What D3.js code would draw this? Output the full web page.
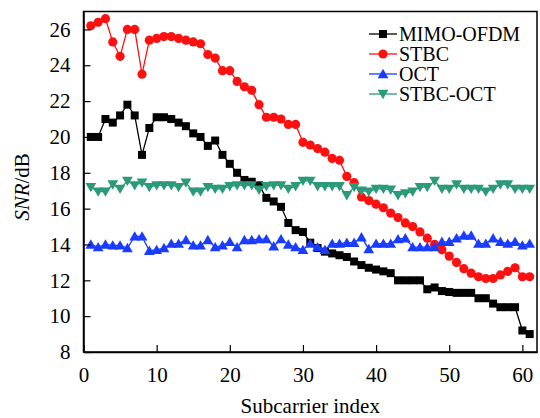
<!DOCTYPE html>
<html>
<head>
<meta charset="utf-8">
<script src="https://cdn.jsdelivr.net/npm/d3@7"></script>
<style>
  body { margin: 0; background: #fff; }
  text { font-family: "Liberation Serif", "Times New Roman", serif; }
</style>
</head>
<body>
<svg width="540" height="418"></svg>
<script>
let subcarrier = [1,2,3,4,5,6,7,8,9,10,11,12,13,14,15,16,17,18,19,20,
  21,22,23,24,25,26,27,28,29,30,31,32,33,34,35,36,37,38,39,40,
  41,42,43,44,45,46,47,48,49,50,51,52,53,54,55,56,57,58,59,60,61];

let mimoOfdm = [20.0,20.0,21.0,20.8,21.2,21.8,21.2,19.0,20.5,21.1,
  21.1,21.0,20.8,20.6,20.2,20.0,19.5,19.8,19.0,18.5,
  18.0,17.6,17.5,17.3,16.6,16.4,16.1,15.2,14.8,14.7,
  14.1,13.8,13.6,13.5,13.4,13.3,13.05,12.85,12.7,12.6,
  12.5,12.4,12.0,12.0,12.0,12.0,11.5,11.6,11.4,11.35,
  11.3,11.3,11.3,11.0,11.0,10.7,10.5,10.5,10.5,9.2,9.0];

let stbc = [26.2,26.4,26.6,25.3,24.5,26.0,26.0,23.5,25.4,25.5,
  25.6,25.6,25.5,25.4,25.3,25.2,24.6,24.4,23.7,23.7,
  23.1,22.8,22.6,21.8,21.1,21.1,21.0,20.7,20.7,19.7,
  19.55,19.35,19.15,18.8,18.7,17.8,17.45,16.65,16.45,16.25,
  16.05,15.75,15.5,15.2,15.0,14.7,14.35,14.0,13.7,13.35,
  13.0,12.65,12.4,12.2,12.1,12.1,12.3,12.5,12.7,12.2,12.2];

let oct = [14.0,13.85,14.0,13.95,13.95,13.8,14.45,14.45,13.65,13.7,
  13.8,14.05,14.05,14.25,13.95,13.95,14.25,13.85,13.95,14.15,
  13.85,14.25,14.25,14.3,14.3,13.9,14.3,14.0,13.85,13.7,
  14.05,13.85,13.7,14.05,14.05,14.1,14.1,14.4,13.75,14.05,
  14.05,14.05,14.3,14.35,13.85,13.85,13.85,13.85,14.15,14.15,
  14.35,14.5,14.5,14.05,14.05,14.35,14.15,14.05,14.15,13.95,14.05];

let stbcOct = [17.2,16.95,16.95,17.35,17.1,17.55,17.3,17.45,17.2,17.3,
  17.3,17.3,17.2,17.45,16.95,16.95,17.2,17.1,17.1,17.25,
  17.3,17.3,17.3,17.05,17.25,17.3,17.3,17.1,17.25,17.55,
  17.55,17.25,17.25,17.25,17.25,16.75,17.2,17.0,16.95,17.1,
  17.1,17.05,16.75,16.85,16.95,17.2,17.2,17.55,17.1,17.1,
  17.35,17.1,17.1,17.1,16.95,17.1,17.35,17.35,17.1,17.1,17.1];

let seriesNames = ['MIMO-OFDM', 'STBC', 'OCT', 'STBC-OCT'];
let xTicks = [0, 10, 20, 30, 40, 50, 60];
let yTicks = [8, 10, 12, 14, 16, 18, 20, 22, 24, 26];

let plotLeft = 83.5, plotRight = 537, plotTop = 11.5, plotBottom = 352;

let series = [
  { name: seriesNames[0], values: mimoOfdm, color: '#000000', shape: 'square' },
  { name: seriesNames[1], values: stbc, color: '#ff1010', shape: 'circle' },
  { name: seriesNames[2], values: oct, color: '#1a3cff', shape: 'up' },
  { name: seriesNames[3], values: stbcOct, color: '#2a9a78', shape: 'down' }
];

let xScale = d3.scaleLinear().domain([0, 62]).range([plotLeft, plotRight]);
let yScale = d3.scaleLinear().domain([8, 27]).range([plotBottom, plotTop]);

const svg = d3.select('svg');

// marker shapes
function marker(g, shape, color) {
  if (shape === 'square') {
    g.append('rect').attr('x', -4).attr('y', -4).attr('width', 8).attr('height', 8).attr('fill', color);
  } else if (shape === 'circle') {
    g.append('circle').attr('r', 4.6).attr('fill', color);
  } else if (shape === 'up') {
    g.append('path').attr('d', 'M0,-5.2L5.4,4.2L-5.4,4.2Z').attr('fill', color);
  } else {
    g.append('path').attr('d', 'M0,5.2L5.4,-4.2L-5.4,-4.2Z').attr('fill', color);
  }
}

let line = d3.line()
  .x((d, i) => xScale(subcarrier[i]))
  .y(d => yScale(d));

series.forEach(s => {
  svg.append('path')
    .attr('d', line(s.values))
    .attr('fill', 'none')
    .attr('stroke', s.color)
    .attr('stroke-width', 1.3);
  s.values.forEach((v, i) => {
    let g = svg.append('g').attr('transform', `translate(${xScale(subcarrier[i])},${yScale(v)})`);
    marker(g, s.shape, s.color);
  });
});

// frame
svg.append('rect')
  .attr('x', plotLeft).attr('y', plotTop)
  .attr('width', plotRight - plotLeft).attr('height', plotBottom - plotTop)
  .attr('fill', 'none').attr('stroke', '#000').attr('stroke-width', 1.5);

// axes with inward ticks
let xAxis = svg.append('g')
  .attr('transform', `translate(0,${plotBottom})`)
  .call(d3.axisBottom(xScale).tickValues(xTicks).tickSizeInner(-7).tickSizeOuter(0).tickPadding(15));
let yAxis = svg.append('g')
  .attr('transform', `translate(${plotLeft},0)`)
  .call(d3.axisLeft(yScale).tickValues(yTicks).tickSizeInner(-7).tickSizeOuter(0).tickPadding(13));

[xAxis, yAxis].forEach(a => {
  a.select('.domain').attr('stroke-width', 1.5);
  a.selectAll('.tick line').attr('stroke-width', 1.2);
  a.selectAll('.tick text').attr('font-size', 21).attr('font-family', '"Liberation Serif", serif').attr('fill', '#000');
});

svg.append('text')
  .attr('x', (plotLeft + plotRight) / 2)
  .attr('y', 413)
  .attr('text-anchor', 'middle')
  .attr('font-size', 21)
  .text('Subcarrier index');

let yLabel = svg.append('text')
  .attr('transform', 'translate(29,187) rotate(-90)')
  .attr('text-anchor', 'middle')
  .attr('font-size', 21);
yLabel.append('tspan').attr('font-style', 'italic').text('SNR');
yLabel.append('tspan').text('/dB');

// legend
let legend = svg.append('g');
series.forEach((s, i) => {
  let y = 34 + i * 20;
  legend.append('line')
    .attr('x1', 369).attr('x2', 397).attr('y1', y).attr('y2', y)
    .attr('stroke', s.color).attr('stroke-width', 1.3);
  let g = legend.append('g').attr('transform', `translate(383,${y})`);
  marker(g, s.shape, s.color);
  legend.append('text')
    .attr('x', 399).attr('y', y + 7)
    .attr('font-size', 20)
    .text(s.name);
});
</script>
</body>
</html>
